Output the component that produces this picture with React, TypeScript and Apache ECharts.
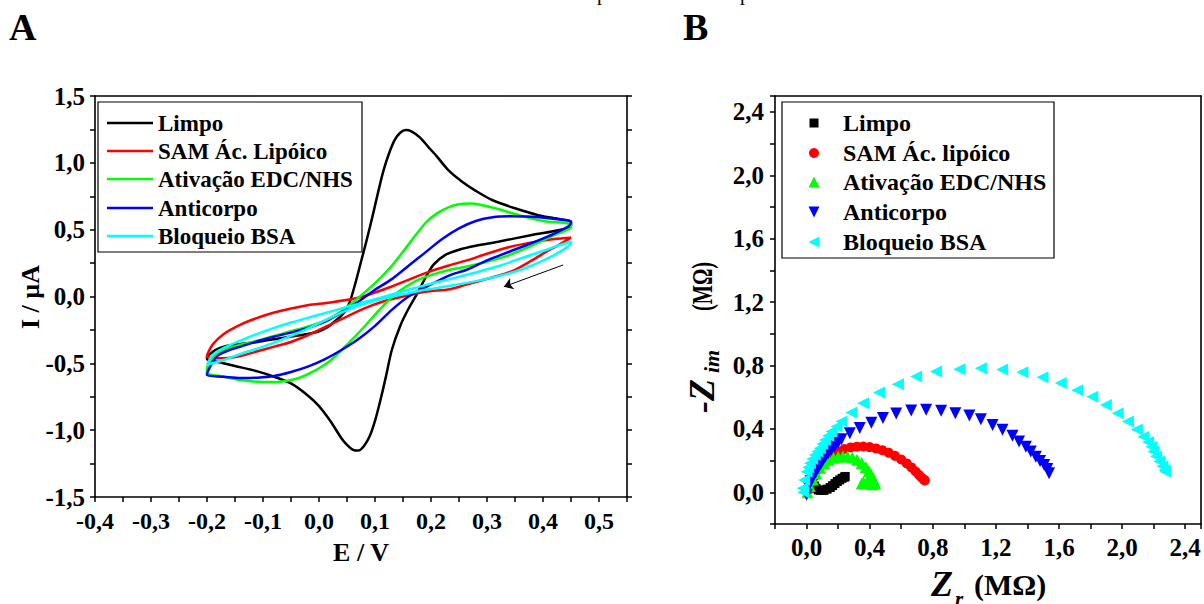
import React, { useEffect, useRef } from 'react';
import * as echarts from 'echarts';

// ---------- Panel A: cyclic voltammograms (E / V, I / µA) ----------
const cvLimpo: number[][] = [
  [-0.2, -0.45], [-0.185, -0.4], [-0.17, -0.375], [-0.14, -0.355], [-0.11, -0.34], [-0.08, -0.32], [-0.05, -0.3],
  [-0.02, -0.28], [0.0, -0.26], [0.015, -0.23], [0.03, -0.18], [0.045, -0.12], [0.055, -0.04], [0.065, 0.1],
  [0.075, 0.26], [0.085, 0.42], [0.095, 0.59], [0.105, 0.77], [0.115, 0.94], [0.125, 1.07], [0.135, 1.17],
  [0.145, 1.225], [0.155, 1.245], [0.165, 1.235], [0.18, 1.19], [0.195, 1.12], [0.21, 1.05], [0.23, 0.95],
  [0.255, 0.86], [0.28, 0.79], [0.31, 0.72], [0.35, 0.66], [0.39, 0.61], [0.42, 0.585], [0.45, 0.56],
  [0.45, 0.53], [0.42, 0.49], [0.38, 0.46], [0.32, 0.41], [0.28, 0.38], [0.25, 0.35], [0.225, 0.31],
  [0.205, 0.24], [0.19, 0.14], [0.175, 0.02], [0.16, -0.09], [0.145, -0.22], [0.13, -0.4], [0.12, -0.59],
  [0.11, -0.77], [0.1, -0.93], [0.09, -1.05], [0.08, -1.12], [0.07, -1.153], [0.06, -1.145], [0.05, -1.11],
  [0.04, -1.06], [0.02, -0.93], [0.0, -0.82], [-0.02, -0.74], [-0.05, -0.65], [-0.08, -0.6], [-0.11, -0.56],
  [-0.15, -0.52], [-0.18, -0.49], [-0.2, -0.47], [-0.2, -0.45],
];
const cvSam: number[][] = [
  [-0.2, -0.44], [-0.19, -0.36], [-0.17, -0.28], [-0.14, -0.21], [-0.11, -0.16], [-0.08, -0.12], [-0.05, -0.09],
  [-0.02, -0.065], [0.02, -0.045], [0.07, -0.01], [0.1, 0.03], [0.13, 0.075], [0.16, 0.125], [0.19, 0.175],
  [0.23, 0.23], [0.264, 0.27], [0.3, 0.32], [0.34, 0.37], [0.38, 0.405], [0.42, 0.43], [0.45, 0.44],
  [0.45, 0.435], [0.43, 0.39], [0.41, 0.345], [0.38, 0.27], [0.35, 0.2], [0.32, 0.155], [0.29, 0.12],
  [0.26, 0.085], [0.234, 0.055], [0.19, 0.035], [0.15, 0.0], [0.12, -0.03], [0.08, -0.09], [0.04, -0.17],
  [0.0, -0.25], [-0.02, -0.29], [-0.05, -0.34], [-0.08, -0.375], [-0.11, -0.41], [-0.14, -0.445],
  [-0.17, -0.462], [-0.19, -0.46], [-0.2, -0.45], [-0.2, -0.44],
];
const cvEdc: number[][] = [
  [-0.2, -0.53], [-0.19, -0.46], [-0.17, -0.4], [-0.14, -0.36], [-0.11, -0.33], [-0.08, -0.295], [-0.05, -0.26],
  [-0.02, -0.225], [0.01, -0.18], [0.04, -0.11], [0.07, -0.01], [0.1, 0.1], [0.13, 0.23], [0.16, 0.39],
  [0.19, 0.55], [0.21, 0.62], [0.23, 0.665], [0.25, 0.69], [0.27, 0.695], [0.29, 0.685], [0.32, 0.655],
  [0.36, 0.605], [0.4, 0.565], [0.45, 0.54],
  [0.45, 0.52], [0.42, 0.46], [0.38, 0.38], [0.34, 0.31], [0.3, 0.26], [0.26, 0.22], [0.234, 0.2],
  [0.2, 0.16], [0.17, 0.11], [0.14, 0.03], [0.11, -0.09], [0.08, -0.23], [0.05, -0.36], [0.02, -0.48],
  [-0.01, -0.56], [-0.04, -0.615], [-0.07, -0.637], [-0.1, -0.64], [-0.14, -0.625], [-0.17, -0.6],
  [-0.2, -0.57], [-0.2, -0.53],
];
const cvAnticorpo: number[][] = [
  [-0.2, -0.575], [-0.19, -0.49], [-0.18, -0.44], [-0.16, -0.4], [-0.14, -0.375], [-0.11, -0.335], [-0.08, -0.3],
  [-0.05, -0.27], [-0.02, -0.235], [0.01, -0.19], [0.04, -0.12], [0.07, -0.04], [0.1, 0.05], [0.13, 0.13],
  [0.16, 0.23], [0.19, 0.33], [0.22, 0.43], [0.25, 0.51], [0.28, 0.565], [0.31, 0.593], [0.34, 0.6],
  [0.38, 0.597], [0.41, 0.585], [0.45, 0.56],
  [0.45, 0.55], [0.42, 0.47], [0.38, 0.4], [0.34, 0.335], [0.3, 0.27], [0.264, 0.2], [0.234, 0.16],
  [0.2, 0.09], [0.16, 0.0], [0.13, -0.1], [0.1, -0.22], [0.07, -0.32], [0.04, -0.4], [0.01, -0.47],
  [-0.02, -0.525], [-0.05, -0.565], [-0.08, -0.595], [-0.11, -0.607], [-0.14, -0.61], [-0.17, -0.6],
  [-0.2, -0.59], [-0.2, -0.575],
];
const cvBsa: number[][] = [
  [-0.2, -0.51], [-0.19, -0.44], [-0.17, -0.385], [-0.14, -0.33], [-0.11, -0.28], [-0.08, -0.235], [-0.05, -0.195],
  [-0.02, -0.16], [0.01, -0.125], [0.04, -0.09], [0.07, -0.055], [0.1, -0.02], [0.13, 0.015], [0.16, 0.05],
  [0.19, 0.085], [0.234, 0.13], [0.28, 0.18], [0.323, 0.23], [0.36, 0.285], [0.4, 0.34], [0.43, 0.385],
  [0.45, 0.41],
  [0.45, 0.4], [0.44, 0.36], [0.42, 0.31], [0.39, 0.25], [0.36, 0.2], [0.323, 0.155], [0.28, 0.115],
  [0.234, 0.08], [0.19, 0.05], [0.16, 0.025], [0.13, 0.0], [0.1, -0.03], [0.07, -0.07], [0.04, -0.12],
  [0.01, -0.18], [-0.02, -0.24], [-0.05, -0.295], [-0.08, -0.345], [-0.11, -0.39], [-0.14, -0.43],
  [-0.17, -0.475], [-0.2, -0.51],
];
const scanArrow: number[][] = [[0.436, 0.236], [0.33, 0.073]];

// ---------- Panel B: Nyquist plots (Zr / MΩ, -Zim / MΩ) ----------
const eisLimpo: number[][] = [
  [0.05, 0.04], [0.06, 0.025], [0.075, 0.015], [0.09, 0.012], [0.11, 0.012], [0.13, 0.02], [0.15, 0.03],
  [0.165, 0.042], [0.18, 0.055], [0.195, 0.068], [0.21, 0.078], [0.225, 0.088], [0.24, 0.095], [0.245, 0.1],
];
const eisSam: number[][] = [
  [0.02, 0.02], [0.035, 0.06], [0.05, 0.1], [0.07, 0.14], [0.095, 0.175], [0.125, 0.205], [0.16, 0.235],
  [0.2, 0.258], [0.24, 0.273], [0.28, 0.283], [0.32, 0.288], [0.36, 0.289], [0.4, 0.285], [0.44, 0.277],
  [0.48, 0.266], [0.52, 0.25], [0.56, 0.23], [0.6, 0.207], [0.635, 0.182], [0.665, 0.157], [0.69, 0.133],
  [0.712, 0.11], [0.73, 0.092], [0.745, 0.078], [0.75, 0.075],
];
const eisEdc: number[][] = [
  [0.005, 0.0], [0.02, 0.04], [0.04, 0.08], [0.06, 0.12], [0.085, 0.155], [0.11, 0.185], [0.14, 0.205],
  [0.17, 0.218], [0.2, 0.225], [0.23, 0.228], [0.26, 0.226], [0.29, 0.22], [0.32, 0.205], [0.35, 0.185],
  [0.375, 0.16], [0.395, 0.135], [0.41, 0.11], [0.42, 0.09], [0.43, 0.07], [0.435, 0.055], [0.42, 0.05],
  [0.4, 0.055], [0.38, 0.06], [0.36, 0.065], [0.35, 0.055],
];
const eisAnticorpo: number[][] = [
  [0.0, -0.015], [0.011, 0.036], [0.025, 0.07], [0.042, 0.099], [0.058, 0.126], [0.073, 0.152], [0.09, 0.178],
  [0.105, 0.204], [0.12, 0.225], [0.137, 0.246], [0.158, 0.27], [0.179, 0.292], [0.2, 0.313], [0.221, 0.334],
  [0.274, 0.373], [0.337, 0.406], [0.411, 0.438], [0.484, 0.469], [0.568, 0.497], [0.663, 0.516], [0.758, 0.52],
  [0.853, 0.514], [0.943, 0.499], [1.032, 0.484], [1.105, 0.461], [1.179, 0.425], [1.242, 0.394], [1.305, 0.356],
  [1.347, 0.32], [1.39, 0.288], [1.421, 0.257], [1.453, 0.225], [1.48, 0.198], [1.506, 0.172], [1.526, 0.147],
  [1.537, 0.12],
];
const eisBsa: number[][] = [
  [-0.02, 0.0], [-0.025, 0.025], [-0.015, 0.078], [0.0, 0.13], [0.01, 0.157], [0.021, 0.183], [0.036, 0.21],
  [0.052, 0.236], [0.068, 0.257], [0.084, 0.278], [0.1, 0.304], [0.116, 0.33], [0.137, 0.357], [0.158, 0.383],
  [0.19, 0.415], [0.221, 0.446], [0.284, 0.503], [0.358, 0.562], [0.459, 0.629], [0.579, 0.682], [0.695, 0.73],
  [0.821, 0.762], [0.968, 0.777], [1.105, 0.783], [1.24, 0.775], [1.368, 0.758], [1.495, 0.726], [1.611, 0.689],
  [1.716, 0.644], [1.811, 0.602], [1.897, 0.551], [1.972, 0.499], [2.037, 0.446], [2.093, 0.396], [2.135, 0.351],
  [2.165, 0.318], [2.185, 0.288], [2.198, 0.258], [2.215, 0.228], [2.235, 0.196], [2.255, 0.165], [2.268, 0.14],
  [2.274, 0.13],
];

// ---------- names, colours, tick labels ----------
const namesA = ['Limpo', 'SAM Ác. Lipóico', 'Ativação EDC/NHS', 'Anticorpo', 'Bloqueio BSA'];
const namesB = ['Limpo', 'SAM Ác. lipóico', 'Ativação EDC/NHS', 'Anticorpo', 'Bloqueio BSA'];
const colors = ['#000000', '#ff0000', '#00ff00', '#0000ff', '#00ffff'];
const xLabelValuesA = [-0.4, -0.3, -0.2, -0.1, 0, 0.1, 0.2, 0.3, 0.4, 0.5];
const yLabelValuesA = [-1.5, -1.0, -0.5, 0, 0.5, 1.0, 1.5];
const xLabelValuesB = [0, 0.4, 0.8, 1.2, 1.6, 2.0, 2.4];
const yLabelValuesB = [0, 0.4, 0.8, 1.2, 1.6, 2.0, 2.4];

const FAM = 'Liberation Serif';

const labelFmt = (vals: number[]) => (v: number) => {
  const hit = vals.find((t) => Math.abs(t - v) < 1e-6);
  if (hit === undefined) return '';
  return (Math.abs(hit) < 1e-9 ? 0 : hit).toFixed(1).replace('.', ',');
};

const axisCommon = (min: number, max: number, interval: number, grid: number) => ({
  type: 'value',
  gridIndex: grid,
  min,
  max,
  interval,
  splitLine: { show: false },
  axisLine: { show: true, onZero: false, lineStyle: { color: '#000', width: 1.6 } },
});

export default function App() {
  const ref = useRef<HTMLDivElement>(null);
  useEffect(() => {
    document.body.style.margin = '0';
    if (!ref.current) return;
    const chart = echarts.init(ref.current, undefined, { renderer: 'svg' });

    const tick = { show: true, inside: false, length: 5, lineStyle: { color: '#000', width: 1.5 } };
    const lbl = (size: number, margin: number, vals: number[]) => ({
      show: true,
      color: '#000',
      fontFamily: FAM,
      fontWeight: 'bold',
      fontSize: size,
      margin,
      formatter: labelFmt(vals),
    });

    const cvData = [cvLimpo, cvSam, cvEdc, cvAnticorpo, cvBsa];
    const eisData = [eisLimpo, eisSam, eisEdc, eisAnticorpo, eisBsa];
    const eisSymbols = ['rect', 'circle', 'triangle', 'triangle', 'triangle'];
    const eisRotate = [0, 0, 0, 180, 90];
    const eisSize = [9, 10, 12, 12, 12];

    const lineSeries = cvData.map((d, i) => ({
      type: 'line',
      name: namesA[i],
      data: d,
      xAxisIndex: 0,
      yAxisIndex: 0,
      showSymbol: false,
      symbol: 'none',
      smooth: 0.3,
      lineStyle: { color: colors[i], width: 2.5 },
      itemStyle: { color: colors[i] },
      z: 2 + i,
      silent: true,
      ...(i === 0
        ? {
            markLine: {
              silent: true,
              symbol: ['none', 'arrow'],
              symbolSize: 9,
              label: { show: false },
              lineStyle: { color: '#000', width: 1, type: 'solid' },
              data: [[{ coord: scanArrow[0] }, { coord: scanArrow[1] }]],
            },
          }
        : {}),
    }));

    const scatterSeries = eisData.map((d, i) => ({
      type: 'scatter',
      name: namesB[i] + ' (EIS)',
      data: d,
      xAxisIndex: 2,
      yAxisIndex: 2,
      symbol: eisSymbols[i],
      symbolRotate: eisRotate[i],
      symbolSize: eisSize[i],
      itemStyle: { color: colors[i], opacity: 1 },
      z: 2 + i,
      silent: true,
    }));

    const font = (spec: string) => `${spec} "${FAM}"`;

    // legends drawn as graphics
    const rowsA = [123, 151, 179, 208, 236];
    const rowsB = [123, 153, 182, 212, 242];
    const legA: any[] = [
      { type: 'rect', shape: { x: 98, y: 102, width: 264, height: 150 }, style: { fill: '#fff', stroke: '#000', lineWidth: 1.2 } },
    ];
    namesA.forEach((n, i) => {
      legA.push({ type: 'line', shape: { x1: 107, y1: rowsA[i], x2: 153, y2: rowsA[i] }, style: { stroke: colors[i], lineWidth: 2.5 } });
      legA.push({
        type: 'text', x: 158, y: rowsA[i],
        style: { text: n, font: font('bold 23px'), fill: '#000', align: 'left', verticalAlign: 'middle', textAlign: 'left', textVerticalAlign: 'middle' },
      });
    });
    const legB: any[] = [
      { type: 'rect', shape: { x: 782, y: 102, width: 272, height: 156 }, style: { fill: '#fff', stroke: '#000', lineWidth: 1.2 } },
    ];
    const sx = 814;
    const sym = (i: number, cy: number) => {
      const c = colors[i];
      const h = 5.5;
      if (i === 0) return { type: 'rect', shape: { x: sx - 4.5, y: cy - 4.5, width: 9, height: 9 }, style: { fill: c } };
      if (i === 1) return { type: 'circle', shape: { cx: sx, cy, r: 5 }, style: { fill: c } };
      if (i === 2) return { type: 'polygon', shape: { points: [[sx, cy - h], [sx - h, cy + h], [sx + h, cy + h]] }, style: { fill: c } };
      if (i === 3) return { type: 'polygon', shape: { points: [[sx, cy + h], [sx - h, cy - h], [sx + h, cy - h]] }, style: { fill: c } };
      return { type: 'polygon', shape: { points: [[sx - h, cy], [sx + h, cy - h], [sx + h, cy + h]] }, style: { fill: c } };
    };
    namesB.forEach((n, i) => {
      legB.push(sym(i, rowsB[i]));
      legB.push({
        type: 'text', x: 843, y: rowsB[i],
        style: { text: n, font: font('bold 24px'), fill: '#000', align: 'left', verticalAlign: 'middle', textAlign: 'left', textVerticalAlign: 'middle' },
      });
    });

    const txt = (text: string, x: number, y: number, f: string, align = 'center', rotation = 0, extra: any = {}) => ({
      type: 'text', x, y, rotation, ...extra,
      style: { text, font: f, fill: '#000', align, verticalAlign: 'middle', textAlign: align, textVerticalAlign: 'middle' },
    });

    const R = Math.PI / 2;
    const titles: any[] = [
      txt('A', 9, 27, font('bold 38px'), 'left'),
      txt('B', 683, 27, font('bold 38px'), 'left'),
      txt('p', 597, -7, font('20px'), 'left'),
      txt('p', 740, -7, font('20px'), 'left'),
      txt('E / V', 361, 552, font('bold 26px')),
      txt('I / µA', 30, 297, font('bold 26px'), 'center', R),
      txt('Z', 931, 584, font('italic bold 36px'), 'left'),
      txt('r', 955, 599, font('italic bold 21px'), 'left'),
      txt('(MΩ)', 974, 584, font('bold 30px'), 'left'),
      // vertical title of panel B, read bottom-to-top
      txt('-Z', 702, 413, font('italic bold 36px'), 'left', R),
      txt('im', 711, 373, font('italic bold 22px'), 'left', R),
      txt('(MΩ)', 702, 311, font('bold 30px'), 'left', R, { scaleX: 0.68 }),
    ];

    chart.setOption({
      animation: false,
      backgroundColor: '#fff',
      textStyle: { fontFamily: FAM },
      grid: [
        { left: 95, top: 96, width: 532, height: 401 },
        { left: 775, top: 96, width: 427, height: 428 },
      ],
      xAxis: [
        { ...axisCommon(-0.4, 0.55, 0.05, 0), position: 'bottom', axisTick: tick, axisLabel: lbl(24, 12, xLabelValuesA) },
        { ...axisCommon(-0.4, 0.55, 0.05, 0), position: 'top', axisTick: { show: false }, axisLabel: { show: false } },
        { ...axisCommon(-0.2, 2.5, 0.2, 1), position: 'bottom', axisTick: tick, axisLabel: lbl(25, 11, xLabelValuesB) },
        { ...axisCommon(-0.2, 2.5, 0.2, 1), position: 'top', axisTick: { show: false }, axisLabel: { show: false } },
      ],
      yAxis: [
        { ...axisCommon(-1.5, 1.5, 0.25, 0), position: 'left', axisTick: tick, axisLabel: lbl(25, 10, yLabelValuesA) },
        { ...axisCommon(-1.5, 1.5, 0.25, 0), position: 'right', axisTick: tick, axisLabel: { show: false } },
        { ...axisCommon(-0.2, 2.5, 0.2, 1), position: 'left', axisTick: tick, axisLabel: lbl(25, 11, yLabelValuesB) },
        { ...axisCommon(-0.2, 2.5, 0.2, 1), position: 'right', axisTick: { show: false }, axisLabel: { show: false } },
      ],
      series: [...lineSeries, ...scatterSeries],
      graphic: { elements: [...legA, ...legB, ...titles] },
    });

    return () => chart.dispose();
  }, []);

  return <div ref={ref} style={{ width: 1204, height: 604 }} />;
}
